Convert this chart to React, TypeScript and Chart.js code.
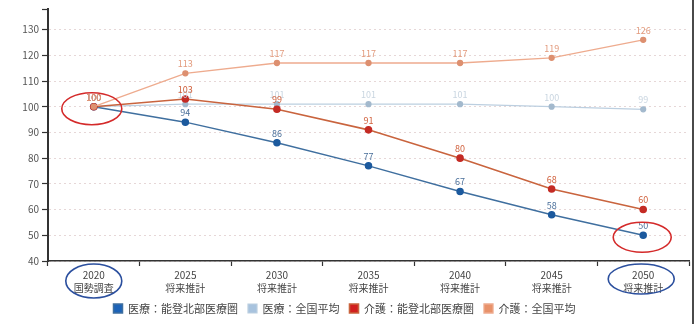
import React, { useEffect, useRef } from "react";
import { Chart, registerables } from "chart.js";

Chart.register(...registerables);

const years = ["2020", "2025", "2030", "2035", "2040", "2045", "2050"];
const subLabels = ["国勢調査", "将来推計", "将来推計", "将来推計", "将来推計", "将来推計", "将来推計"];
const seriesNames = ["医療：能登北部医療圏", "医療：全国平均", "介護：能登北部医療圏", "介護：全国平均"];
const medicalNoto = [100, 94, 86, 77, 67, 58, 50];
const medicalNational = [100, 101, 101, 101, 101, 100, 99];
const careNoto = [100, 103, 99, 91, 80, 68, 60];
const careNational = [100, 113, 117, 117, 117, 119, 126];
const yTickValues = [40, 50, 60, 70, 80, 90, 100, 110, 120, 130];
const yMin = 40;
const yMax = 138;

const FONT = "'Noto Sans CJK JP', 'Noto Sans', sans-serif";

const dataLabelPlugin = {
  id: "dataLabels",
  afterDatasetsDraw(chart: any) {
    const ctx = chart.ctx;
    ctx.save();
    ctx.font = `9px ${FONT}`;
    ctx.textAlign = "center";
    ctx.textBaseline = "bottom";
    chart.data.datasets.forEach((ds: any, di: number) => {
      const meta = chart.getDatasetMeta(di);
      ctx.fillStyle = ds.labelColor;
      meta.data.forEach((pt: any, i: number) => {
        ctx.fillText(String(ds.data[i]), pt.x, pt.y - 5);
      });
    });
    ctx.restore();
  },
};

const annotationPlugin = {
  id: "annotations",
  afterDraw(chart: any) {
    const ctx = chart.ctx;
    const x = chart.scales.x;
    const y = chart.scales.y;
    const area = chart.chartArea;
    ctx.save();
    // right frame line
    ctx.strokeStyle = "#4a4a4a";
    ctx.lineWidth = 2;
    ctx.beginPath();
    ctx.moveTo(693, 0);
    ctx.lineTo(693, chart.height);
    ctx.stroke();
    // red ellipses
    ctx.strokeStyle = "#d42a2a";
    ctx.lineWidth = 1.6;
    ctx.beginPath();
    ctx.ellipse(x.getPixelForValue(0) - 2, y.getPixelForValue(careNoto[0]) + 2, 30, 16, 0, 0, Math.PI * 2);
    ctx.stroke();
    ctx.beginPath();
    ctx.ellipse(x.getPixelForValue(6) - 1, y.getPixelForValue(medicalNoto[6]) + 2, 29, 15, 0, 0, Math.PI * 2);
    ctx.stroke();
    // blue ellipses
    ctx.strokeStyle = "#2b4f9e";
    ctx.beginPath();
    ctx.ellipse(x.getPixelForValue(0), area.bottom + 20, 28, 17, 0, 0, Math.PI * 2);
    ctx.stroke();
    ctx.beginPath();
    ctx.ellipse(x.getPixelForValue(6) - 2, area.bottom + 18, 33, 15, 0, 0, Math.PI * 2);
    ctx.stroke();
    ctx.restore();
  },
};

export default function App() {
  const ref = useRef<HTMLCanvasElement>(null);
  useEffect(() => {
    document.body.style.margin = "0";
    const chart = new Chart(ref.current as HTMLCanvasElement, {
      type: "line",
      data: {
        labels: years.map((y, i) => [y, subLabels[i]]),
        datasets: [
          {
            label: seriesNames[0],
            data: medicalNoto,
            order: 3,
            borderColor: "#3f6f9f",
            backgroundColor: "#1c63b8",
            pointBackgroundColor: "#1c5a9e",
            pointBorderColor: "#1c5a9e",
            borderWidth: 1.5,
            pointRadius: 3,
            tension: 0,
            labelColor: "#4a6f9a",
          } as any,
          {
            label: seriesNames[1],
            data: medicalNational,
            order: 2,
            borderColor: "#bccfe0",
            backgroundColor: "#a8c3de",
            pointBackgroundColor: "#a3b9cd",
            pointBorderColor: "#a3b9cd",
            borderWidth: 1.2,
            pointRadius: 2.5,
            tension: 0,
            labelColor: "#c9d5e0",
          } as any,
          {
            label: seriesNames[2],
            data: careNoto,
            order: 1,
            borderColor: "#c9643e",
            backgroundColor: "#d11f1f",
            pointBackgroundColor: "#c42b24",
            pointBorderColor: "#c42b24",
            borderWidth: 1.6,
            pointRadius: 3,
            tension: 0,
            labelColor: "#d0603c",
          } as any,
          {
            label: seriesNames[3],
            data: careNational,
            order: 0,
            borderColor: "#eeab8e",
            backgroundColor: "#e8926a",
            pointBackgroundColor: "#dd9070",
            pointBorderColor: "#dd9070",
            borderWidth: 1.3,
            pointRadius: 2.5,
            tension: 0,
            labelColor: "#e29a7c",
          } as any,
        ],
      },
      options: {
        responsive: false,
        animation: false,
        devicePixelRatio: 1,
        layout: { padding: { top: 6, right: 8, left: 0, bottom: 0 } },
        plugins: {
          legend: {
            position: "bottom",
            labels: {
              boxWidth: 9,
              boxHeight: 9,
              padding: 10,
              color: "#444",
              font: { family: FONT, size: 11 },
              sort: (a: any, b: any) => a.datasetIndex - b.datasetIndex,
            },
          },
          tooltip: { enabled: false },
        },
        scales: {
          x: {
            offset: true,
            afterFit(scale: any) {
              scale.height = 32;
            },
            grid: {
              offset: true,
              drawOnChartArea: false,
              drawTicks: true,
              tickLength: 5,
              tickColor: "#333",
              tickWidth: 1.2,
            },
            border: { display: true, color: "#333", width: 1.5 },
            ticks: {
              color: "#444",
              padding: 2,
              maxRotation: 0,
              font: { family: FONT, size: 10, lineHeight: 1.35 },
            },
          },
          y: {
            min: yMin,
            max: yMax,
            afterFit(scale: any) {
              scale.width = 48;
            },
            afterBuildTicks(scale: any) {
              scale.ticks = [...yTickValues, yMax].map((v) => ({ value: v }));
            },
            grid: {
              color: (c: any) =>
                c.tick && c.tick.value === yMax ? "rgba(0,0,0,0)" : "rgba(205,175,175,0.5)",
              lineWidth: 1,
              drawTicks: true,
              tickLength: 6,
              tickColor: "#333",
              tickWidth: 1.2,
            },
            border: { display: true, color: "#333", width: 2, dash: [2, 3] },
            ticks: {
              color: "#555",
              padding: 3,
              font: { family: FONT, size: 10 },
              callback: (v: any) => (v === yMax ? "" : String(v)),
            },
          },
        },
      },
      plugins: [dataLabelPlugin, annotationPlugin],
    } as any);
    return () => chart.destroy();
  }, []);
  return (
    <div style={{ width: 697, height: 324 }}>
      <canvas ref={ref} width={697} height={324} style={{ display: "block" }} />
    </div>
  );
}
